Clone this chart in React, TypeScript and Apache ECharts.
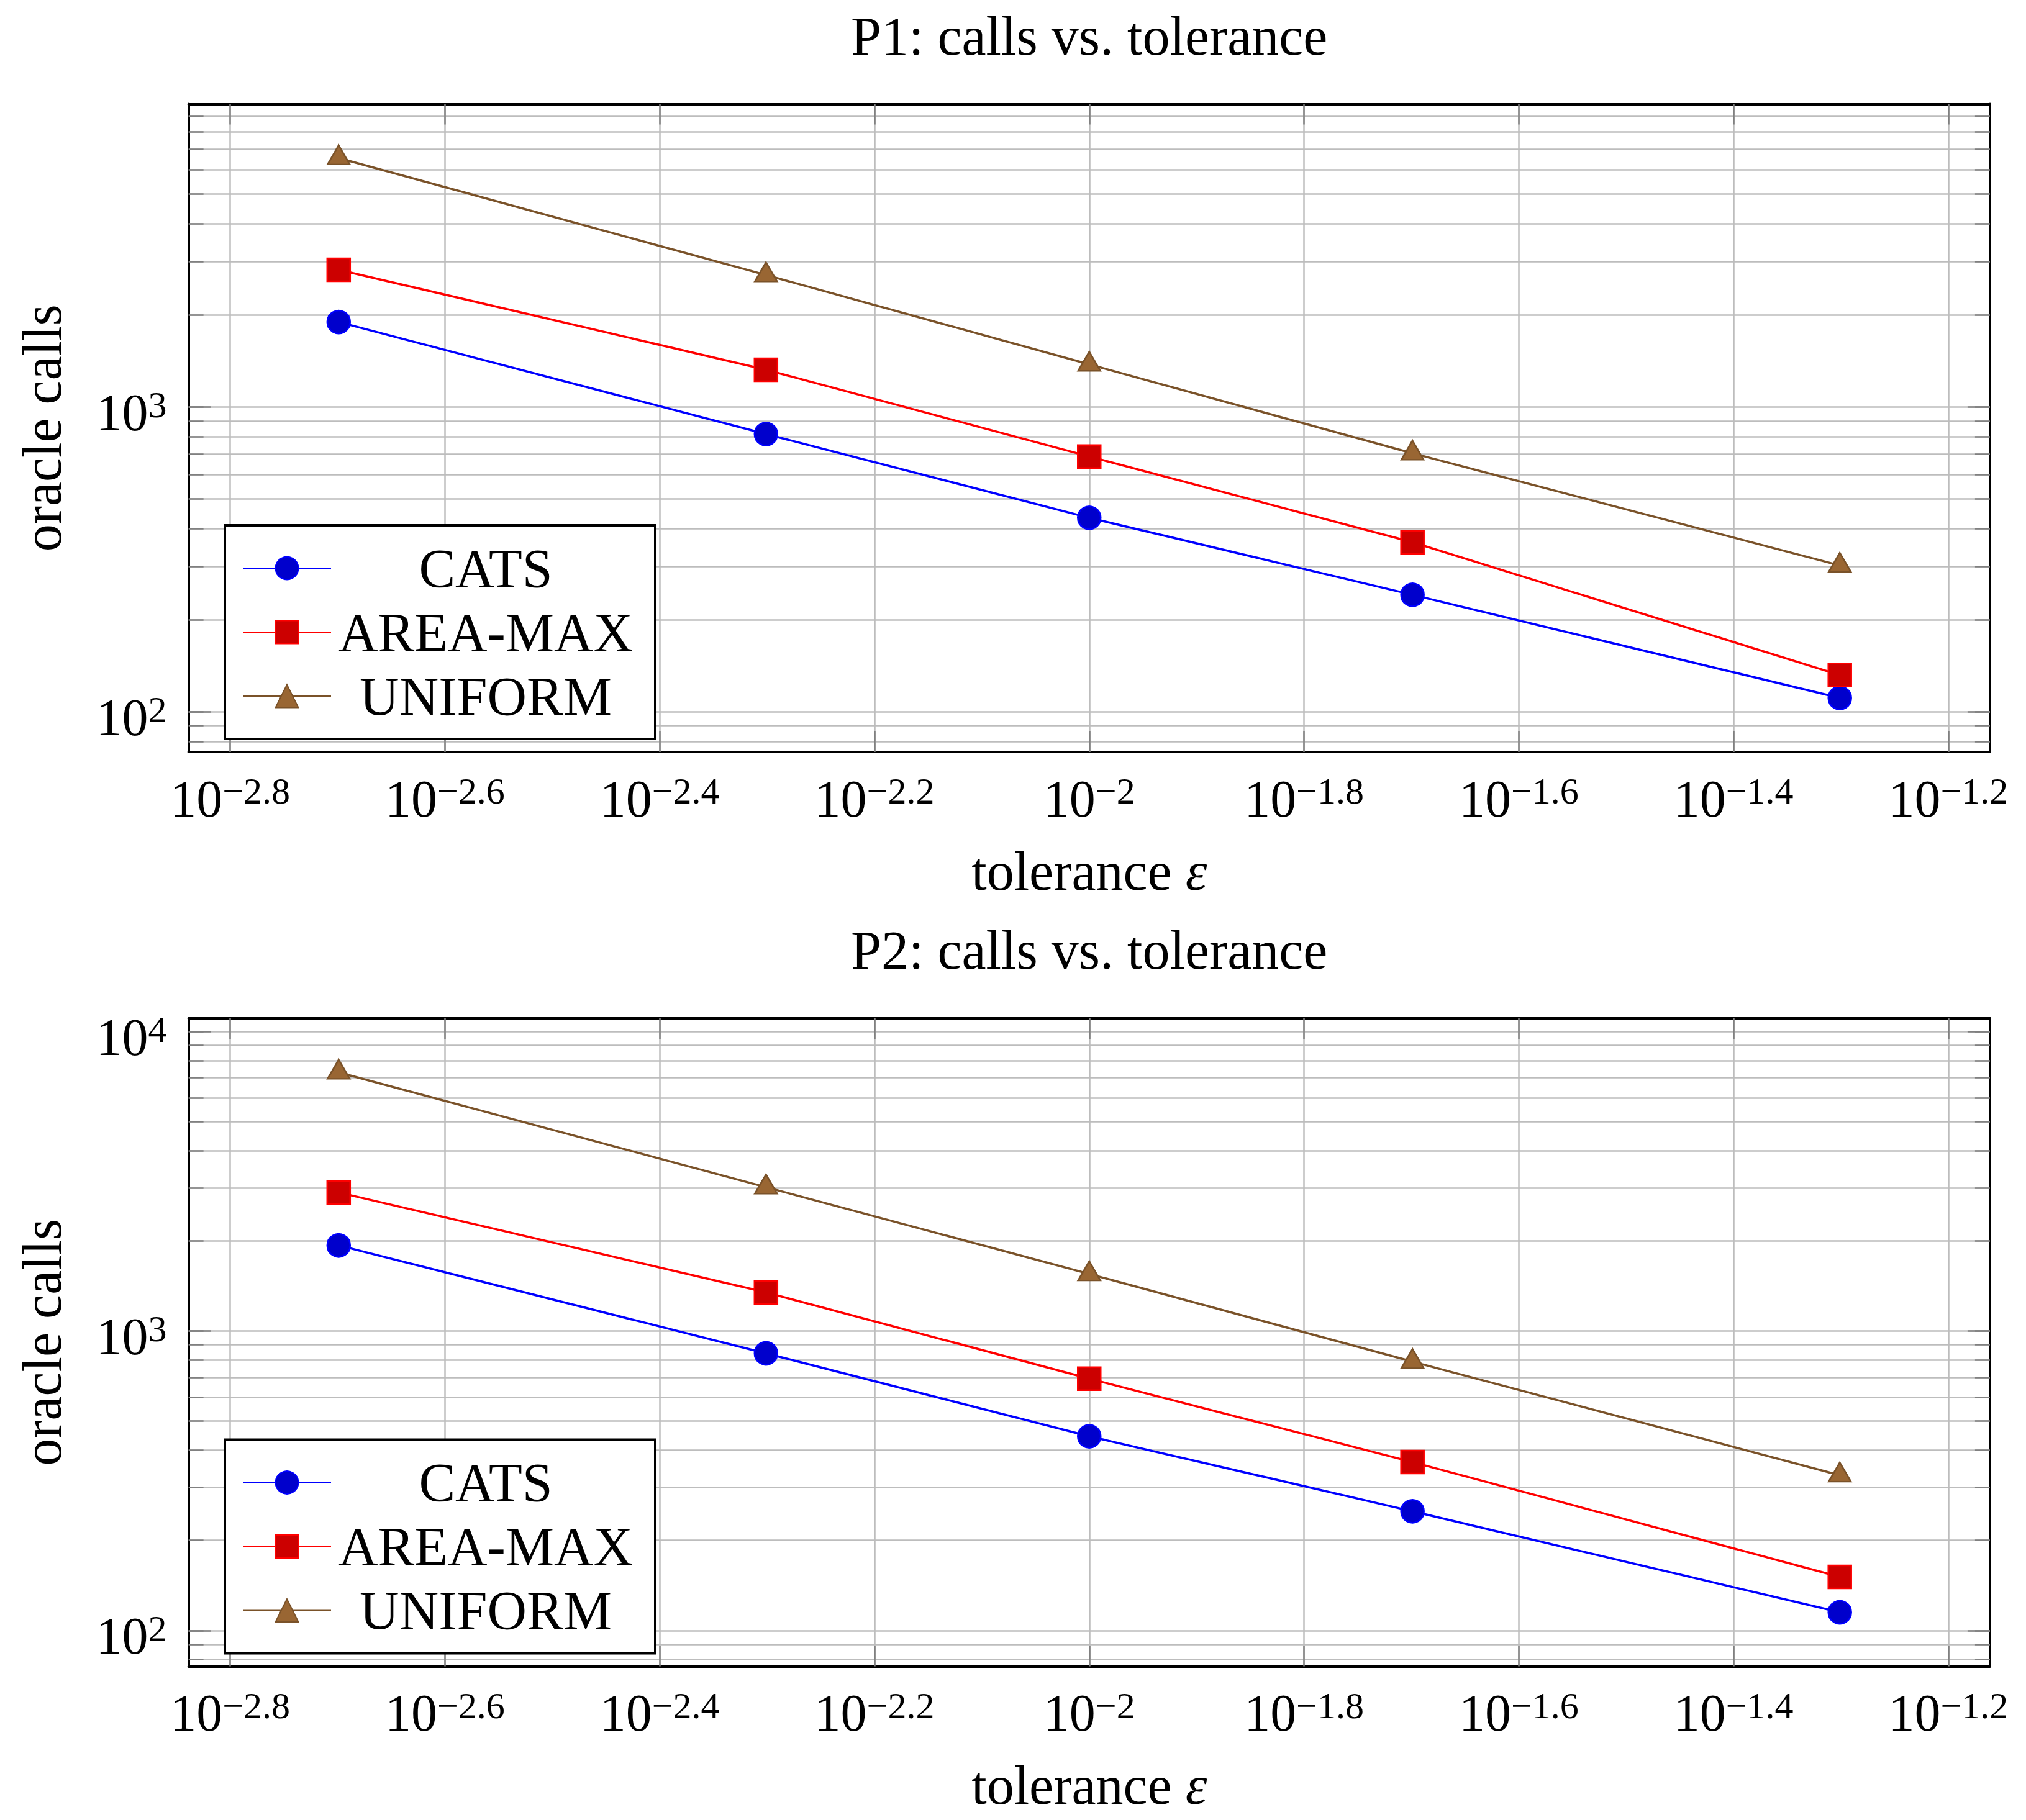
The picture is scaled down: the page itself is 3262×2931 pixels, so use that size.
import { useEffect, useRef } from "react";
import * as echarts from "echarts";

// Tolerances (x) shared by both problems
const tolerances = [0.002, 0.005, 0.01, 0.02, 0.05];
const seriesNames = ["CATS", "AREA-MAX", "UNIFORM"];

// Oracle calls, problem P1
const p1Cats = [1900, 815, 433, 242, 111];
const p1AreaMax = [2820, 1325, 688, 360, 132];
const p1Uniform = [6560, 2710, 1380, 705, 302];

// Oracle calls, problem P2
const p2Cats = [1930, 842, 445, 250, 115];
const p2AreaMax = [2900, 1345, 693, 365, 151];
const p2Uniform = [7300, 3020, 1550, 790, 330];

const panelTitles = ["P1: calls vs. tolerance", "P2: calls vs. tolerance"];
const xTickExponents = [-2.8, -2.6, -2.4, -2.2, -2, -1.8, -1.6, -1.4, -1.2];
const yDecadeExponents = [2, 3, 4];
const xAxisTitle = "tolerance {i|ε}";
const yAxisTitle = "oracle calls";

const panels = [
  [p1Cats, p1AreaMax, p1Uniform],
  [p2Cats, p2AreaMax, p2Uniform],
];

const FONT = "'Liberation Serif', 'DejaVu Serif', serif";
const GRID_LEFT = 303.6;
const GRID_WIDTH = 2900.3;
const GRID_HEIGHT = 1043.5;
const PANEL_TOPS = [167.5, 1640];
const GRID_COLOR = "#bdbdbd";
const TICK_COLOR = "#808080";

const markerStyles = [
  { line: "#0000ff", fill: "#0000cc", symbol: "circle", size: 37 as any, offset: [0, 0] },
  { line: "#ff0000", fill: "#cc0000", symbol: "rect", size: 37 as any, offset: [0, 0] },
  { line: "#7a5229", fill: "#996633", symbol: "triangle", size: [36, 31] as any, offset: [0, -5] },
];

const log10 = (v: number) => Math.log10(v);

// pgfplots-style enlargement: 10% of the data range on each side, in log space
function paddedExtent(values: number[]): [number, number] {
  const logs = values.map(log10);
  const lo = Math.min(...logs);
  const hi = Math.max(...logs);
  const r = hi - lo;
  return [lo - 0.1 * r, hi + 0.1 * r];
}

function logGridValues(lo: number, hi: number): number[] {
  const out: number[] = [];
  for (let n = Math.floor(lo); n <= Math.ceil(hi); n++) {
    for (let k = 1; k <= 9; k++) {
      const v = n + Math.log10(k);
      if (v >= lo && v <= hi) out.push(+v.toFixed(6));
    }
  }
  return out;
}

const supRich = {
  b: { fontSize: 84, lineHeight: 84, verticalAlign: "bottom", fontFamily: FONT, color: "#000" },
  s: { fontSize: 60, lineHeight: 36, verticalAlign: "top", fontFamily: FONT, color: "#000" },
};

function fmtExp(v: number): string {
  const e = Math.round(v * 10) / 10;
  const txt = e < 0 ? "\u2212" + String(Math.abs(e)) : String(e);
  return `{b|10}{s|${txt}}`;
}

function buildOption() {
  const xExtent = paddedExtent(tolerances);
  const xAxes: any[] = [];
  const yAxes: any[] = [];
  const grids: any[] = [];
  const series: any[] = [];
  const titles: any[] = [];
  const legends: any[] = [];

  panels.forEach((panel, p) => {
    const top = PANEL_TOPS[p];
    const yExtent = paddedExtent(panel.flat());
    const yMajors = yDecadeExponents.filter((e) => e >= yExtent[0] && e <= yExtent[1]);
    const yAll = logGridValues(yExtent[0], yExtent[1]);

    grids.push({
      left: GRID_LEFT,
      top,
      width: GRID_WIDTH,
      height: GRID_HEIGHT,
      containLabel: false,
      outerBoundsMode: "none",
    });

    titles.push({
      text: panelTitles[p],
      left: GRID_LEFT + GRID_WIDTH / 2,
      textAlign: "center",
      top: top - 153.5,
      padding: 0,
      textStyle: { fontFamily: FONT, fontSize: 88, lineHeight: 88, fontWeight: "normal", color: "#000" },
    });

    const frameLine = { show: true, onZero: false, lineStyle: { color: "#000", width: 4 } };
    const noLine = { show: false, onZero: false };

    // bottom x axis: labels, grid lines, ticks
    xAxes.push({
      type: "value",
      gridIndex: p,
      position: "bottom",
      min: xExtent[0],
      max: xExtent[1],
      axisLine: frameLine,
      axisTick: { show: true, inside: true, length: 33, customValues: xTickExponents, lineStyle: { color: TICK_COLOR, width: 2.5 } },
      axisLabel: { show: true, customValues: xTickExponents, formatter: fmtExp, margin: 33, rich: supRich },
      splitLine: { show: true, lineStyle: { color: GRID_COLOR, width: 2.5 } },
      name: xAxisTitle,
      nameLocation: "middle",
      nameGap: 148,
      nameTextStyle: {
        fontFamily: FONT,
        fontSize: 88,
        lineHeight: 88,
        color: "#000",
        rich: { i: { fontFamily: FONT, fontSize: 88, lineHeight: 88, fontStyle: "italic", color: "#000" } },
      },
    });
    // top x axis: frame and ticks only
    xAxes.push({
      type: "value",
      gridIndex: p,
      position: "top",
      min: xExtent[0],
      max: xExtent[1],
      axisLine: frameLine,
      axisTick: { show: true, inside: true, length: 33, customValues: xTickExponents, lineStyle: { color: TICK_COLOR, width: 2.5 } },
      axisLabel: { show: false },
      splitLine: { show: false },
    });

    const yBase = { type: "value", gridIndex: p, min: yExtent[0], max: yExtent[1] };
    // left decade axis with labels and name
    yAxes.push({
      ...yBase,
      position: "left",
      axisLine: frameLine,
      axisTick: { show: true, inside: true, length: 36, customValues: yMajors, lineStyle: { color: TICK_COLOR, width: 2.5 } },
      axisLabel: { show: true, customValues: yMajors, formatter: fmtExp, margin: 35, rich: supRich, padding: [18, 0, 0, 0] },
      splitLine: { show: false },
      name: yAxisTitle,
      nameLocation: "middle",
      nameGap: 191,
      nameTextStyle: { fontFamily: FONT, fontSize: 88, lineHeight: 88, color: "#000" },
    });
    // left axis carrying the full log grid
    yAxes.push({
      ...yBase,
      position: "left",
      axisLine: noLine,
      axisTick: { show: true, inside: true, length: 24, customValues: yAll, lineStyle: { color: TICK_COLOR, width: 2.5 } },
      axisLabel: { show: false },
      splitLine: { show: true, lineStyle: { color: GRID_COLOR, width: 2.5 } },
    });
    // right side mirrors
    yAxes.push({
      ...yBase,
      position: "right",
      axisLine: frameLine,
      axisTick: { show: true, inside: true, length: 36, customValues: yMajors, lineStyle: { color: TICK_COLOR, width: 2.5 } },
      axisLabel: { show: false },
      splitLine: { show: false },
    });
    yAxes.push({
      ...yBase,
      position: "right",
      axisLine: noLine,
      axisTick: { show: true, inside: true, length: 24, customValues: yAll, lineStyle: { color: TICK_COLOR, width: 2.5 } },
      axisLabel: { show: false },
      splitLine: { show: false },
    });

    panel.forEach((values, s) => {
      const st = markerStyles[s];
      series.push({
        type: "line",
        name: seriesNames[s],
        xAxisIndex: p * 2,
        yAxisIndex: p * 4,
        data: tolerances.map((t, i) => [log10(t), log10(values[i])]),
        symbol: st.symbol,
        symbolSize: st.size,
        symbolOffset: st.offset,
        showAllSymbol: true,
        lineStyle: { color: st.line, width: 3.5 },
        itemStyle: { color: st.fill, borderColor: st.line, borderWidth: 2.5 },
        emphasis: { disabled: true },
        z: 3,
      });
    });

    legends.push({
      data: seriesNames,
      orient: "vertical",
      left: 362,
      top: top + 678.5,
      itemWidth: 142,
      itemHeight: 46,
      itemGap: 15,
      padding: [25, 29, 25, 28],
      backgroundColor: "#fff",
      borderColor: "#000",
      borderWidth: 4,
      borderRadius: 0,
      selectedMode: false,
      formatter: (n: string) => `{t|${n}}`,
      textStyle: {
        rich: { t: { width: 488, align: "center", fontSize: 88, lineHeight: 90, fontFamily: FONT, color: "#000" } },
      },
      z: 10,
    });
  });

  return {
    animation: false,
    backgroundColor: "#fff",
    textStyle: { fontFamily: FONT },
    title: titles,
    legend: legends,
    grid: grids,
    xAxis: xAxes,
    yAxis: yAxes,
    series,
  };
}

export default function App() {
  const ref = useRef<HTMLDivElement>(null);
  useEffect(() => {
    const chart = echarts.init(ref.current!, null, { renderer: "svg" });
    chart.setOption(buildOption() as any);
    return () => chart.dispose();
  }, []);
  return (
    <div
      ref={ref}
      style={{ position: "fixed", left: 0, top: 0, width: 3262, height: 2931, background: "#fff" }}
    />
  );
}
